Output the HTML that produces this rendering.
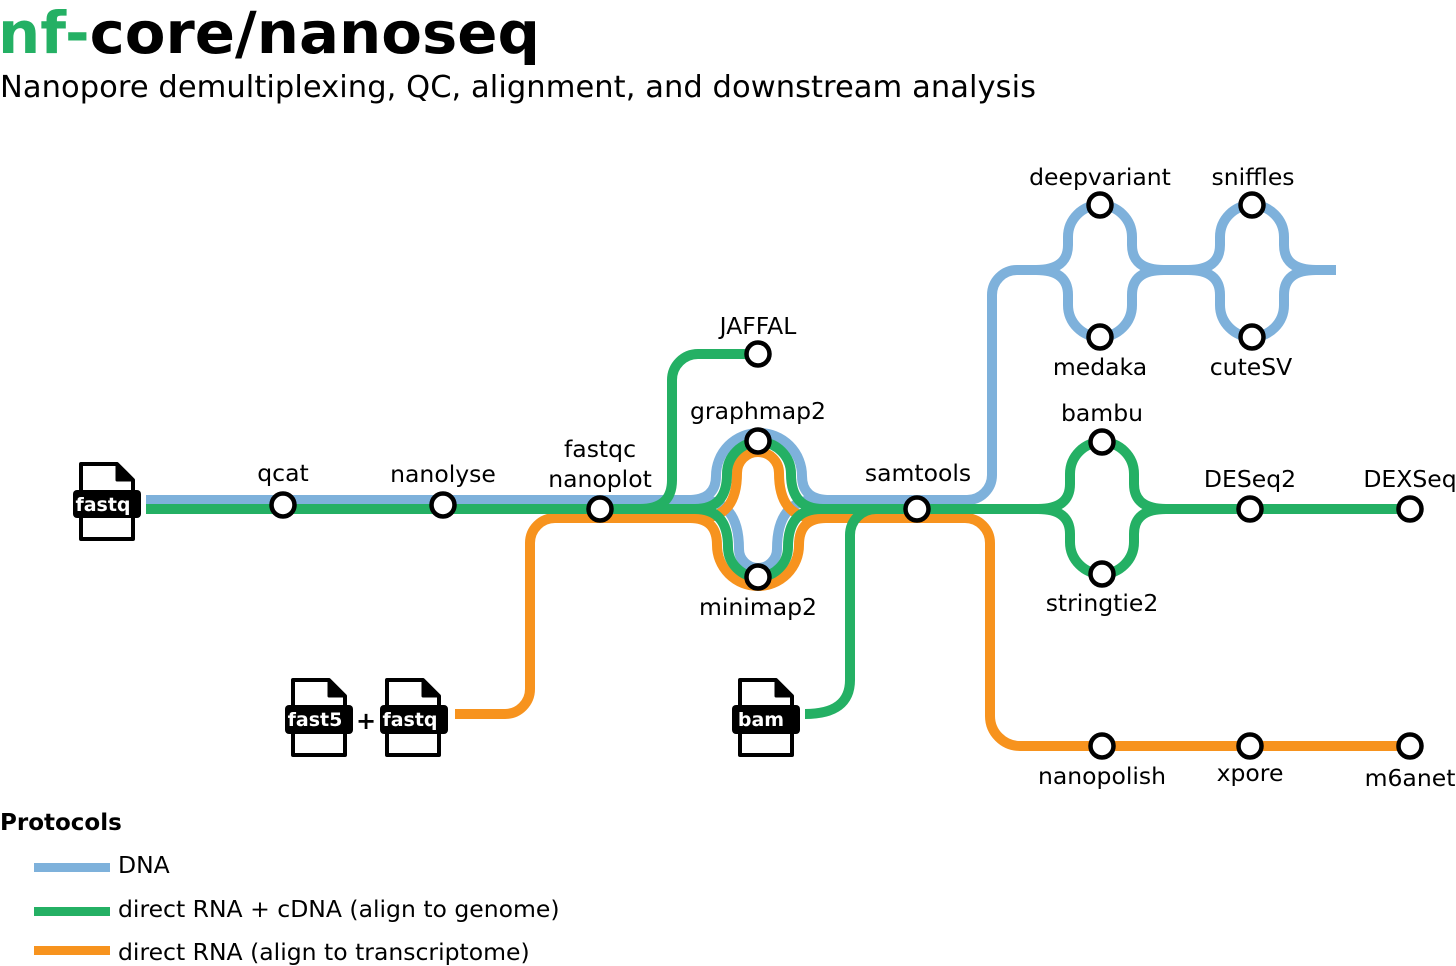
<!DOCTYPE html>
<html><head><meta charset="utf-8"><style>
html,body{margin:0;padding:0;background:#fff;width:1456px;height:966px;overflow:hidden}
svg{display:block}
text{font-family:"DejaVu Sans","Liberation Sans",sans-serif}
</style></head><body>
<svg width="1456" height="966" viewBox="0 0 1456 966" xmlns="http://www.w3.org/2000/svg">
<text x="-2" y="53" font-size="58" font-weight="bold" fill="#000" textLength="542" lengthAdjust="spacingAndGlyphs"><tspan fill="#24B064">nf-</tspan>core/nanoseq</text>
<text x="0" y="97" font-size="30.5" fill="#000" textLength="1036" lengthAdjust="spacing">Nanopore demultiplexing, QC, alignment, and downstream analysis</text>

<g fill="none" stroke-width="10">
<g stroke="#7EB1DB">
<path d="M146 500 L700 500"/>
<path d="M688 500 Q716 500 716 476 A43 43 0 0 1 802 476 Q802 500 830 500"/>
<path d="M700 500 Q739 500 739 549 A19 19 0 0 0 777 549 Q777 500 816 500"/>
<path d="M810 500 L967 500 A25 25 0 0 0 992 475 L992 295 A25 25 0 0 1 1017 270 L1040 270"/>
<path d="M1036 270 Q1068 270 1068 245 L1068 237 A32 32 0 0 1 1132 237 L1132 245 Q1132 270 1164 270"/>
<path d="M1036 270 Q1068 270 1068 295 L1068 305 A32 32 0 0 0 1132 305 L1132 295 Q1132 270 1164 270"/>
<path d="M1160 270 L1192 270"/>
<path d="M1188 270 Q1220 270 1220 245 L1220 237 A32 32 0 0 1 1284 237 L1284 245 Q1284 270 1316 270 L1336 270"/>
<path d="M1188 270 Q1220 270 1220 295 L1220 305 A32 32 0 0 0 1284 305 L1284 295 Q1284 270 1316 270"/>
</g>
<g stroke="#F7931E">
<path d="M455 714 L505 714 A25 25 0 0 0 530 689 L530 543 A25 25 0 0 1 555 518 L705 518"/>
<path d="M700 518 Q737 518 737 473 A21 21 0 0 1 779 473 Q779 518 816 518"/>
<path d="M690 518 Q717 518 717 545 A41 41 0 0 0 799 545 Q799 518 826 518"/>
<path d="M815 518 L965 518 A25 25 0 0 1 990 543 L990 716 A30 30 0 0 0 1020 746 L1410 746"/>
</g>
<g stroke="#24B064">
<path d="M146 509 L705 509"/>
<path d="M640 509 Q672 509 672 480 L672 380 A26 26 0 0 1 698 354 L758 354"/>
<path d="M695 509 Q727 509 727 474 A32 32 0 0 1 791 474 Q791 509 823 509"/>
<path d="M695 509 Q728 509 728 547 A30 30 0 0 0 788 547 Q788 509 821 509"/>
<path d="M815 509 L1042 509"/>
<path d="M805 714 Q850 714 850 680 L850 535 A26 26 0 0 1 876 509"/>
<path d="M1038 509 Q1070 509 1070 484 L1070 474 A32 32 0 0 1 1134 474 L1134 484 Q1134 509 1166 509"/>
<path d="M1038 509 Q1070 509 1070 534 L1070 542 A32 32 0 0 0 1134 542 L1134 534 Q1134 509 1166 509"/>
<path d="M1160 509 L1410 509"/>
</g>
</g>

<g fill="#fff" stroke="#000" stroke-width="4.5">
<circle cx="283" cy="505" r="11.5"/>
<circle cx="443" cy="505" r="11.5"/>
<circle cx="600" cy="509" r="11.5"/>
<circle cx="758" cy="354" r="11.5"/>
<circle cx="758" cy="441" r="11.5"/>
<circle cx="758" cy="577" r="11.5"/>
<circle cx="917" cy="509" r="11.5"/>
<circle cx="1100" cy="205" r="11.5"/>
<circle cx="1100" cy="337" r="11.5"/>
<circle cx="1252" cy="205" r="11.5"/>
<circle cx="1252" cy="337" r="11.5"/>
<circle cx="1102" cy="442" r="11.5"/>
<circle cx="1102" cy="574" r="11.5"/>
<circle cx="1250" cy="509" r="11.5"/>
<circle cx="1410" cy="509" r="11.5"/>
<circle cx="1102" cy="746" r="11.5"/>
<circle cx="1250" cy="746" r="11.5"/>
<circle cx="1410" cy="746" r="11.5"/>
</g>

<g font-size="23.5" fill="#000" text-anchor="middle">
<text x="283" y="481">qcat</text>
<text x="443" y="482">nanolyse</text>
<text x="600" y="457">fastqc</text>
<text x="600" y="487">nanoplot</text>
<text x="758" y="334">JAFFAL</text>
<text x="758" y="419">graphmap2</text>
<text x="758" y="615">minimap2</text>
<text x="918" y="481">samtools</text>
<text x="1100" y="185">deepvariant</text>
<text x="1253" y="185">sniffles</text>
<text x="1100" y="375">medaka</text>
<text x="1251" y="375">cuteSV</text>
<text x="1102" y="421">bambu</text>
<text x="1102" y="611">stringtie2</text>
<text x="1250" y="487">DESeq2</text>
<text x="1410" y="487">DEXSeq</text>
<text x="1102" y="784">nanopolish</text>
<text x="1250" y="781">xpore</text>
<text x="1410" y="786">m6anet</text>
</g>

<defs>
<g id="doc"><path d="M0 0 L36 0 L52 16 L52 75 L0 75 Z" fill="#fff" stroke="#000" stroke-width="4" stroke-linejoin="round"/><path d="M36 0 L36 16 L52 16 Z" fill="#000" stroke="#000" stroke-width="3" stroke-linejoin="round"/></g>
</defs>
<use href="#doc" x="81" y="464"/>
<rect x="73" y="490" width="68" height="28" rx="4" fill="#000"/>
<text x="103" y="511" font-size="19" font-weight="bold" fill="#fff" text-anchor="middle">fastq</text>
<use href="#doc" x="293" y="680"/>
<rect x="285" y="705" width="68" height="29" rx="4" fill="#000"/>
<text x="315" y="726" font-size="19" font-weight="bold" fill="#fff" text-anchor="middle">fast5</text>
<text x="366" y="729" font-size="24" font-weight="bold" fill="#000" text-anchor="middle">+</text>
<use href="#doc" x="387" y="680"/>
<rect x="380" y="705" width="68" height="29" rx="4" fill="#000"/>
<text x="410" y="726" font-size="19" font-weight="bold" fill="#fff" text-anchor="middle">fastq</text>
<use href="#doc" x="740" y="680"/>
<rect x="732" y="705" width="68" height="29" rx="4" fill="#000"/>
<text x="761" y="726" font-size="19" font-weight="bold" fill="#fff" text-anchor="middle">bam</text>

<text x="0" y="830" font-size="23" font-weight="bold" fill="#000">Protocols</text>
<rect x="34" y="863" width="76" height="9" fill="#7EB1DB"/>
<text x="118" y="873" font-size="23.5" fill="#000">DNA</text>
<rect x="34" y="907" width="76" height="9" fill="#24B064"/>
<text x="118" y="917" font-size="23.5" fill="#000">direct RNA + cDNA (align to genome)</text>
<rect x="34" y="946" width="76" height="9" fill="#F7931E"/>
<text x="118" y="960" font-size="23.5" fill="#000">direct RNA (align to transcriptome)</text>
</svg>
</body></html>
